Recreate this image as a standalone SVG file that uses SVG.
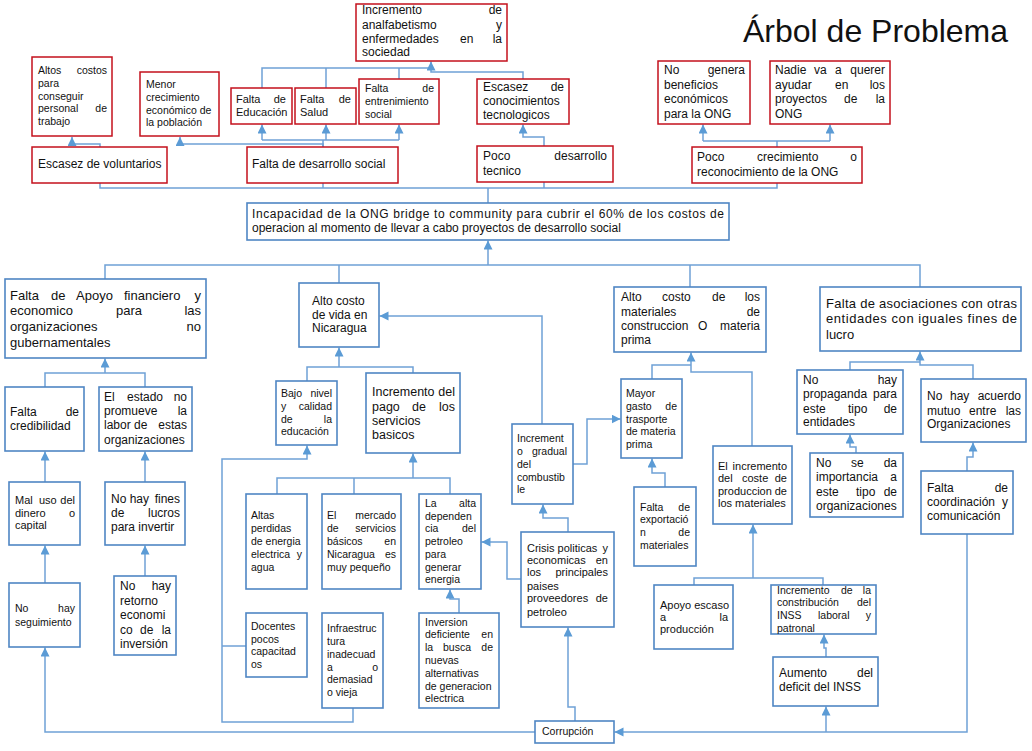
<svg xmlns="http://www.w3.org/2000/svg" width="1032" height="751" viewBox="0 0 1032 751">
<style>
text{font-family:"Liberation Sans",Arial,sans-serif;fill:#111}
.r{fill:#fff;stroke:#C4101C;stroke-width:1.5}
.b{fill:#fff;stroke:#4F86C4;stroke-width:1.6}
.c{fill:none;stroke:#6FA1D6;stroke-width:1.5}
.a{fill:none;stroke:#6FA1D6;stroke-width:1.5;marker-end:url(#ah)}
.f105{font-size:10.5px}.f11{font-size:11px}.f12{font-size:12px}.f125{font-size:12.5px}.f13{font-size:13px}
.e{text-anchor:end}
.title{font-size:32px}
</style>
<defs>
<marker id="ah" markerUnits="userSpaceOnUse" markerWidth="10" markerHeight="10" refX="9" refY="4.5" orient="auto">
<path d="M0,0 L9,4.5 L0,9 Z" fill="#5B9BD5"/>
</marker>
</defs>
<rect width="1032" height="751" fill="#fff"/>
<text class="title" x="743" y="42">Árbol de Problema</text>

<g id="connectors">
<path class="a" d="M100,147 V144 H72 V137"/>
<path class="a" d="M323,147 V144 H180 V137"/>
<path class="c" d="M323,147 V140"/>
<path class="c" d="M262,140 H399"/>
<path class="a" d="M262,140 V124.5"/>
<path class="a" d="M326,140 V124.5"/>
<path class="a" d="M399,140 V124.5"/>
<path class="c" d="M262,88 V68 H431"/>
<path class="c" d="M326,88 V68"/>
<path class="c" d="M399,79 V68"/>
<path class="a" d="M523,79 V72 H431 V61.5"/>
<path class="a" d="M544,146 V137 H523 V124.5"/>
<path class="c" d="M777,147 V141"/>
<path class="c" d="M703,141 H830"/>
<path class="a" d="M703,141 V124.5"/>
<path class="a" d="M830,141 V124.5"/>
<path class="c" d="M100,183 V188 H777 V183"/>
<path class="c" d="M323,183 V188"/>
<path class="c" d="M544,182 V188"/>
<path class="c" d="M488,188 V203"/>

<path class="c" d="M105,279 V265 H920 V287"/>
<path class="c" d="M339,283 V265"/>
<path class="c" d="M690,287 V265"/>
<path class="a" d="M488,265 V240.5"/>

<path class="c" d="M45,387 V373 H145 V387"/>
<path class="a" d="M105,373 V358.5"/>
<path class="a" d="M45,482 V451.5"/>
<path class="a" d="M145,482 V451.5"/>
<path class="a" d="M45,583 V545.5"/>
<path class="a" d="M145,576 V545.5"/>
<path class="a" d="M535,732 H45 V647.5"/>

<path class="c" d="M307,381 V367 H413 V373"/>
<path class="a" d="M339,367 V347.5"/>
<path class="a" d="M353,708 V722 H222 V459 H307 V445.5"/>
<path class="c" d="M222,646 H246"/>
<path class="c" d="M277,494 V478 H450 V494"/>
<path class="c" d="M354,478 V494"/>
<path class="a" d="M413,478 V453.5"/>
<path class="a" d="M459,613 V599 H450 V589.5"/>
<path class="a" d="M521,579 H507 V542 H481.5"/>
<path class="a" d="M568,532 V518 H543 V504.5"/>
<path class="a" d="M542,424 V316 H379.5"/>
<path class="a" d="M573,464 H587 V419 H620.5"/>
<path class="a" d="M575,721 V707 H568 V627.5"/>

<path class="c" d="M652,379 V365 H691"/>
<path class="a" d="M752,446 V372 H691 V352.5"/>
<path class="a" d="M665,487 V473 H652 V458.5"/>
<path class="c" d="M694,585 V578 H823 V585"/>
<path class="a" d="M753,578 V524.5"/>
<path class="a" d="M826,657 V648 H824 V634.5"/>
<path class="a" d="M967,534 V732 H614.5"/>
<path class="a" d="M826,732 V706.5"/>

<path class="c" d="M850,370 V362 H920"/>
<path class="a" d="M973,379 V365 H920 V351.5"/>
<path class="a" d="M856,453 V447 H850 V434.5"/>
<path class="a" d="M967,471 V457 H973 V442.5"/>
</g>

<g id="n-altos-costos"><rect class="r" x="32" y="57" width="80" height="79"/>
<text class="f105"><tspan x="38" y="74">Altos</tspan><tspan x="38" y="87">para</tspan><tspan x="38" y="99.5">conseguir</tspan><tspan x="38" y="112">personal</tspan><tspan x="38" y="125">trabajo</tspan></text>
<text class="f105 e" x="107" y="74">costos</text><text class="f105 e" x="107" y="112">de</text></g>

<g id="n-menor"><rect class="r" x="140" y="72" width="79" height="64"/>
<text class="f105"><tspan x="146" y="88">Menor</tspan><tspan x="146" y="101">crecimiento</tspan><tspan x="146" y="113.5">económico de</tspan><tspan x="146" y="126">la población</tspan></text></g>

<g id="n-educacion"><rect class="r" x="231" y="88" width="61" height="36"/>
<text class="f11"><tspan x="236" y="103">Falta</tspan><tspan x="236" y="116">Educación</tspan></text><text class="f11 e" x="286" y="103">de</text></g>

<g id="n-salud"><rect class="r" x="295" y="88" width="61" height="36"/>
<text class="f11"><tspan x="300" y="103">Falta</tspan><tspan x="300" y="116">Salud</tspan></text><text class="f11 e" x="351" y="103">de</text></g>

<g id="n-entrenimiento"><rect class="r" x="359" y="79" width="80" height="45"/>
<text class="f105"><tspan x="365" y="92">Falta</tspan><tspan x="365" y="104.5">entrenimiento</tspan><tspan x="365" y="117.5">social</tspan></text><text class="f105 e" x="434" y="92">de</text></g>

<g id="n-analfabetismo"><rect class="r" x="356" y="4" width="151" height="57"/>
<text class="f12"><tspan x="362" y="14">Incremento</tspan><tspan x="362" y="29">analfabetismo</tspan><tspan x="362" y="43">enfermedades</tspan><tspan x="460" y="43">en</tspan><tspan x="362" y="56">sociedad</tspan></text>
<text class="f12 e" x="502" y="14">de</text><text class="f12 e" x="502" y="29">y</text><text class="f12 e" x="502" y="43">la</text></g>

<g id="n-escasez-conoc"><rect class="r" x="477" y="79" width="92" height="45"/>
<text class="f12"><tspan x="483" y="91">Escasez</tspan><tspan x="483" y="105">conocimientos</tspan><tspan x="483" y="119">tecnologicos</tspan></text><text class="f12 e" x="564" y="91">de</text></g>

<g id="n-poco-tecnico"><rect class="r" x="477" y="146" width="136" height="36"/>
<text class="f12"><tspan x="483" y="160">Poco</tspan><tspan x="483" y="175">tecnico</tspan></text><text class="f12 e" x="607" y="160">desarrollo</text></g>

<g id="n-escasez-vol"><rect class="r" x="32" y="147" width="135" height="36"/>
<text class="f12" x="38" y="168">Escasez de voluntarios</text></g>

<g id="n-falta-desarrollo"><rect class="r" x="247" y="147" width="151" height="36"/>
<text class="f12" x="252" y="168">Falta de desarrollo social</text></g>

<g id="n-no-genera"><rect class="r" x="658" y="61" width="92" height="63"/>
<text class="f12"><tspan x="664" y="74">No</tspan><tspan x="664" y="88.5">beneficios</tspan><tspan x="664" y="103">económicos</tspan><tspan x="664" y="117.5">para la ONG</tspan></text><text class="f12 e" x="745" y="74">genera</text></g>

<g id="n-nadie"><rect class="r" x="770" y="61" width="120" height="63"/>
<text class="f12"><tspan x="775" y="74">Nadie</tspan><tspan x="814" y="74">va</tspan><tspan x="835" y="74">a</tspan><tspan x="775" y="88.5">ayudar</tspan><tspan x="835" y="88.5">en</tspan><tspan x="775" y="103">proyectos</tspan><tspan x="844" y="103">de</tspan><tspan x="775" y="117.5">ONG</tspan></text>
<text class="f12 e" x="885" y="74">querer</text><text class="f12 e" x="885" y="88.5">los</text><text class="f12 e" x="885" y="103">la</text></g>

<g id="n-poco-crecimiento"><rect class="r" x="692" y="147" width="170" height="36"/>
<text class="f12"><tspan x="697" y="161">Poco</tspan><tspan x="757" y="161">crecimiento</tspan><tspan x="697" y="176">reconocimiento de la ONG</tspan></text><text class="f12 e" x="857" y="161">o</text></g>

<g id="n-incapacidad"><rect class="b" x="247" y="203" width="482" height="37"/>
<text class="f12" x="252" y="218" textLength="472" lengthAdjust="spacing">Incapacidad de la ONG bridge to community para cubrir el 60% de los costos de</text>
<text class="f12" x="252" y="232">operacion al momento de llevar a cabo proyectos de desarrollo social</text></g>

<g id="n-falta-apoyo"><rect class="b" x="5" y="279" width="201" height="79"/>
<text class="f13"><tspan x="10" y="299.5">Falta</tspan><tspan x="51" y="299.5">de</tspan><tspan x="76" y="299.5">Apoyo</tspan><tspan x="124" y="299.5">financiero</tspan><tspan x="10" y="314.5">economico</tspan><tspan x="116" y="314.5">para</tspan><tspan x="10" y="331">organizaciones</tspan><tspan x="10" y="347">gubernamentales</tspan></text>
<text class="f13 e" x="201" y="299.5">y</text><text class="f13 e" x="201" y="314.5">las</text><text class="f13 e" x="201" y="331">no</text></g>

<g id="n-credibilidad"><rect class="b" x="5" y="387" width="79" height="64"/>
<text class="f12"><tspan x="10" y="416">Falta</tspan><tspan x="10" y="430">credibilidad</tspan></text><text class="f12 e" x="79" y="416">de</text></g>

<g id="n-estado"><rect class="b" x="99" y="387" width="93" height="64"/>
<text class="f12"><tspan x="104" y="401">El</tspan><tspan x="127" y="401">estado</tspan><tspan x="104" y="415">promueve</tspan><tspan x="104" y="429">labor</tspan><tspan x="134" y="429">de</tspan><tspan x="104" y="444">organizaciones</tspan></text>
<text class="f12 e" x="187" y="401">no</text><text class="f12 e" x="187" y="415">la</text><text class="f12 e" x="187" y="429">estas</text></g>

<g id="n-mal-uso"><rect class="b" x="9" y="482" width="71" height="63"/>
<text class="f11"><tspan x="15" y="504">Mal</tspan><tspan x="39" y="504">uso</tspan><tspan x="15" y="517">dinero</tspan><tspan x="15" y="529">capital</tspan></text>
<text class="f11 e" x="75" y="504">del</text><text class="f11 e" x="75" y="517">o</text></g>

<g id="n-fines"><rect class="b" x="105" y="482" width="80" height="63"/>
<text class="f12"><tspan x="111" y="503">No hay</tspan><tspan x="111" y="517">de</tspan><tspan x="111" y="531">para invertir</tspan></text>
<text class="f12 e" x="180" y="503">fines</text><text class="f12 e" x="180" y="517">lucros</text></g>

<g id="n-seguimiento"><rect class="b" x="9" y="583" width="71" height="64"/>
<text class="f105"><tspan x="15" y="612">No</tspan><tspan x="15" y="625.5">seguimiento</tspan></text><text class="f105 e" x="75" y="612">hay</text></g>

<g id="n-retorno"><rect class="b" x="114" y="576" width="62" height="79"/>
<text class="f12"><tspan x="120" y="590">No</tspan><tspan x="120" y="605">retorno</tspan><tspan x="120" y="619">economi</tspan><tspan x="120" y="633.5">co</tspan><tspan x="140" y="633.5">de</tspan><tspan x="120" y="647.5">inversión</tspan></text>
<text class="f12 e" x="171" y="590">hay</text><text class="f12 e" x="171" y="633.5">la</text></g>

<g id="n-alto-vida"><rect class="b" x="299" y="283" width="80" height="64"/>
<text class="f12"><tspan x="312" y="305">Alto costo</tspan><tspan x="312" y="319">de vida en</tspan><tspan x="312" y="332">Nicaragua</tspan></text></g>

<g id="n-bajo-nivel"><rect class="b" x="276" y="381" width="61" height="64"/>
<text class="f105"><tspan x="281" y="397">Bajo</tspan><tspan x="281" y="410">y</tspan><tspan x="281" y="423">de</tspan><tspan x="281" y="435">educación</tspan></text>
<text class="f105 e" x="332" y="397">nivel</text><text class="f105 e" x="332" y="410">calidad</text><text class="f105 e" x="332" y="423">la</text></g>

<g id="n-inc-pago"><rect class="b" x="366" y="373" width="94" height="80"/>
<text class="f125"><tspan x="372" y="395.5">Incremento</tspan><tspan x="372" y="410.5">pago</tspan><tspan x="412" y="410.5">de</tspan><tspan x="372" y="424.5">servicios</tspan><tspan x="372" y="438.5">basicos</tspan></text>
<text class="f125 e" x="455" y="395.5">del</text><text class="f125 e" x="455" y="410.5">los</text></g>

<g id="n-altas-perdidas"><rect class="b" x="246" y="494" width="61" height="95"/>
<text class="f105"><tspan x="251" y="518.5">Altas</tspan><tspan x="251" y="531.5">perdidas</tspan><tspan x="251" y="544.5">de energia</tspan><tspan x="251" y="557.5">electrica</tspan><tspan x="251" y="570.5">agua</tspan></text>
<text class="f105 e" x="302" y="557.5">y</text></g>

<g id="n-mercado"><rect class="b" x="322" y="494" width="79" height="95"/>
<text class="f105"><tspan x="327" y="518.5">El</tspan><tspan x="327" y="531.5">de</tspan><tspan x="327" y="544.5">básicos</tspan><tspan x="327" y="557.5">Nicaragua</tspan><tspan x="327" y="570.5">muy pequeño</tspan></text>
<text class="f105 e" x="396" y="518.5">mercado</text><text class="f105 e" x="396" y="531.5">servicios</text><text class="f105 e" x="396" y="544.5">en</text><text class="f105 e" x="396" y="557.5">es</text></g>

<g id="n-dependencia"><rect class="b" x="419" y="494" width="62" height="95"/>
<text class="f105"><tspan x="425" y="506.5">La</tspan><tspan x="425" y="519.5">dependen</tspan><tspan x="425" y="531.5">cia</tspan><tspan x="425" y="544.5">petroleo</tspan><tspan x="425" y="557.5">para</tspan><tspan x="425" y="570.5">generar</tspan><tspan x="425" y="582.5">energia</tspan></text>
<text class="f105 e" x="476" y="506.5">alta</text><text class="f105 e" x="476" y="531.5">del</text></g>

<g id="n-docentes"><rect class="b" x="246" y="613" width="61" height="64"/>
<text class="f105"><tspan x="251" y="629.5">Docentes</tspan><tspan x="251" y="642.5">pocos</tspan><tspan x="251" y="655">capacitad</tspan><tspan x="251" y="667.5">os</tspan></text></g>

<g id="n-infraestructura"><rect class="b" x="322" y="613" width="61" height="95"/>
<text class="f105"><tspan x="327" y="631.5">Infraestruc</tspan><tspan x="327" y="644.5">tura</tspan><tspan x="327" y="657.5">inadecuad</tspan><tspan x="327" y="670.5">a</tspan><tspan x="327" y="682.5">demasiad</tspan><tspan x="327" y="695.5">o vieja</tspan></text>
<text class="f105 e" x="378" y="670.5">o</text></g>

<g id="n-inversion"><rect class="b" x="419" y="613" width="80" height="95"/>
<text class="f105"><tspan x="425" y="625.5">Inversion</tspan><tspan x="425" y="637.5">deficiente</tspan><tspan x="425" y="650.5">la</tspan><tspan x="443" y="650.5">busca</tspan><tspan x="425" y="663.5">nuevas</tspan><tspan x="425" y="676.5">alternativas</tspan><tspan x="425" y="689.5">de generacion</tspan><tspan x="425" y="701.5">electrica</tspan></text>
<text class="f105 e" x="493" y="637.5">en</text><text class="f105 e" x="493" y="650.5">de</text></g>

<g id="n-crisis"><rect class="b" x="521" y="532" width="93" height="95"/>
<text class="f11"><tspan x="527" y="552">Crisis politicas</tspan><tspan x="527" y="564">economicas</tspan><tspan x="527" y="576">los</tspan><tspan x="527" y="589.5">paises</tspan><tspan x="527" y="602">proveedores</tspan><tspan x="527" y="615.5">petroleo</tspan></text>
<text class="f11 e" x="608" y="552">y</text><text class="f11 e" x="608" y="564">en</text><text class="f11 e" x="608" y="576">principales</text><text class="f11 e" x="608" y="602">de</text></g>

<g id="n-combustible"><rect class="b" x="512" y="424" width="61" height="80"/>
<text class="f105"><tspan x="517" y="441.5">Increment</tspan><tspan x="517" y="454.5">o</tspan><tspan x="517" y="467.5">del</tspan><tspan x="517" y="480.5">combustib</tspan><tspan x="517" y="493">le</tspan></text>
<text class="f105 e" x="567" y="454.5">gradual</text></g>

<g id="n-mayor-gasto"><rect class="b" x="621" y="379" width="61" height="79"/>
<text class="f105"><tspan x="626" y="396.5">Mayor</tspan><tspan x="626" y="409.5">gasto</tspan><tspan x="626" y="422.5">trasporte</tspan><tspan x="626" y="434.5">de materia</tspan><tspan x="626" y="447.5">prima</tspan></text>
<text class="f105 e" x="677" y="409.5">de</text></g>

<g id="n-exportacion"><rect class="b" x="634" y="487" width="62" height="79"/>
<text class="f105"><tspan x="640" y="510.5">Falta</tspan><tspan x="640" y="522.5">exportació</tspan><tspan x="640" y="535.5">n</tspan><tspan x="640" y="548.5">materiales</tspan></text>
<text class="f105 e" x="690" y="510.5">de</text><text class="f105 e" x="690" y="535.5">de</text></g>

<g id="n-alto-materiales"><rect class="b" x="614" y="287" width="152" height="65"/>
<text class="f12"><tspan x="621" y="301">Alto</tspan><tspan x="662" y="301">costo</tspan><tspan x="712" y="301">de</tspan><tspan x="621" y="316">materiales</tspan><tspan x="621" y="330">construccion</tspan><tspan x="698" y="330">O</tspan><tspan x="621" y="343.5">prima</tspan></text>
<text class="f12 e" x="760" y="301">los</text><text class="f12 e" x="760" y="316">de</text><text class="f12 e" x="760" y="330">materia</text></g>

<g id="n-coste"><rect class="b" x="713" y="446" width="79" height="78"/>
<text class="f11"><tspan x="718" y="469.5">El</tspan><tspan x="718" y="482">del</tspan><tspan x="742" y="482">coste</tspan><tspan x="718" y="495">produccion</tspan><tspan x="718" y="507">los materiales</tspan></text>
<text class="f11 e" x="787" y="469.5">incremento</text><text class="f11 e" x="787" y="482">de</text><text class="f11 e" x="787" y="495">de</text></g>

<g id="n-apoyo-escaso"><rect class="b" x="654" y="585" width="79" height="64"/>
<text class="f11"><tspan x="660" y="609">Apoyo escaso</tspan><tspan x="660" y="621">a</tspan><tspan x="660" y="633">producción</tspan></text>
<text class="f11 e" x="728" y="621">la</text></g>

<g id="n-inss"><rect class="b" x="771" y="585" width="105" height="49"/>
<text class="f105"><tspan x="777" y="593.5">Incremento</tspan><tspan x="841" y="593.5">de</tspan><tspan x="777" y="606">constribución</tspan><tspan x="777" y="618.5">INSS</tspan><tspan x="818" y="618.5">laboral</tspan><tspan x="777" y="632">patronal</tspan></text>
<text class="f105 e" x="871" y="593.5">la</text><text class="f105 e" x="871" y="606">del</text><text class="f105 e" x="871" y="618.5">y</text></g>

<g id="n-aumento"><rect class="b" x="773" y="657" width="105" height="49"/>
<text class="f12"><tspan x="779" y="677">Aumento</tspan><tspan x="779" y="691">deficit del INSS</tspan></text>
<text class="f12 e" x="873" y="677">del</text></g>

<g id="n-asociaciones"><rect class="b" x="820" y="287" width="201" height="64"/>
<text class="f13" x="826" y="307.5" textLength="191" lengthAdjust="spacing">Falta de asociaciones con otras</text>
<text class="f13" x="826" y="322.5" textLength="191" lengthAdjust="spacing">entidades con iguales fines de</text>
<text class="f13" x="826" y="338.5">lucro</text></g>

<g id="n-propaganda"><rect class="b" x="797" y="370" width="106" height="64"/>
<text class="f12"><tspan x="803" y="384">No</tspan><tspan x="803" y="398">propaganda</tspan><tspan x="803" y="413">este</tspan><tspan x="848" y="413">tipo</tspan><tspan x="803" y="426">entidades</tspan></text>
<text class="f12 e" x="897" y="384">hay</text><text class="f12 e" x="897" y="398">para</text><text class="f12 e" x="897" y="413">de</text></g>

<g id="n-acuerdo"><rect class="b" x="921" y="379" width="105" height="63"/>
<text class="f12"><tspan x="927" y="400">No</tspan><tspan x="950" y="400">hay</tspan><tspan x="927" y="415">mutuo</tspan><tspan x="969" y="415">entre</tspan><tspan x="927" y="428">Organizaciones</tspan></text>
<text class="f12 e" x="1021" y="400">acuerdo</text><text class="f12 e" x="1021" y="415">las</text></g>

<g id="n-importancia"><rect class="b" x="810" y="453" width="93" height="64"/>
<text class="f12"><tspan x="816" y="467">No</tspan><tspan x="851" y="467">se</tspan><tspan x="816" y="481">importancia</tspan><tspan x="816" y="496">este</tspan><tspan x="856" y="496">tipo</tspan><tspan x="816" y="510">organizaciones</tspan></text>
<text class="f12 e" x="897" y="467">da</text><text class="f12 e" x="897" y="481">a</text><text class="f12 e" x="897" y="496">de</text></g>

<g id="n-coordinacion"><rect class="b" x="921" y="471" width="92" height="63"/>
<text class="f12"><tspan x="927" y="492">Falta</tspan><tspan x="927" y="506">coordinación</tspan><tspan x="927" y="520">comunicación</tspan></text>
<text class="f12 e" x="1008" y="492">de</text><text class="f12 e" x="1008" y="506">y</text></g>

<g id="n-corrupcion"><rect class="b" x="535" y="721" width="79" height="22"/>
<text class="f105" x="542" y="735">Corrupción</text></g>
</svg>
